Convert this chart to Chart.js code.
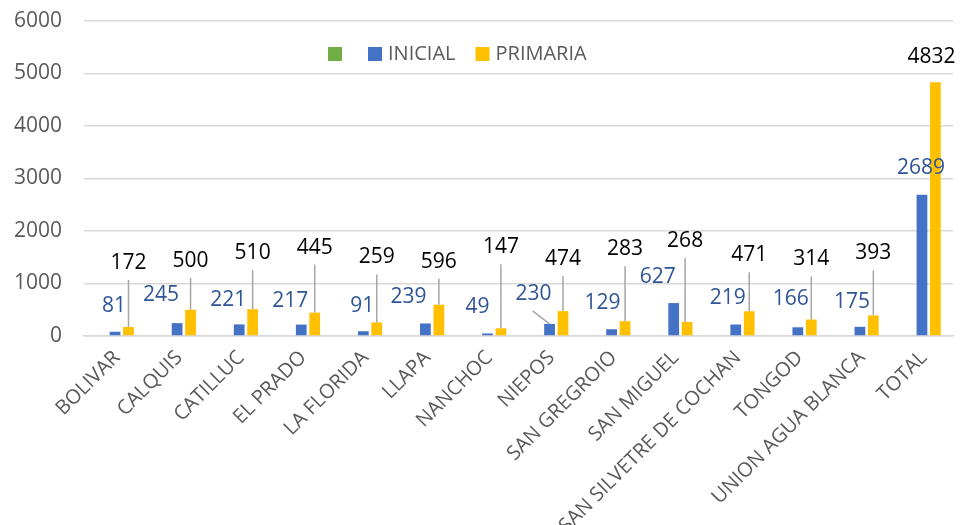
<!DOCTYPE html>
<html>
<head>
<meta charset="utf-8">
<script src="https://cdn.jsdelivr.net/npm/chart.js@4.4.1/dist/chart.umd.min.js"></script>
<style>
  html, body { margin: 0; padding: 0; background: #fff; }
  #wrap { width: 963px; height: 525px; }
</style>
</head>
<body>
<div id="wrap"><canvas id="myChart"></canvas></div>
<script>
const categories = ['BOLIVAR', 'CALQUIS', 'CATILLUC', 'EL PRADO', 'LA FLORIDA', 'LLAPA', 'NANCHOC', 'NIEPOS', 'SAN GREGROIO', 'SAN MIGUEL', 'SAN SILVETRE DE COCHAN', 'TONGOD', 'UNION AGUA BLANCA', 'TOTAL'];
const inicial = [81, 245, 221, 217, 91, 239, 49, 230, 129, 627, 219, 166, 175, 2689];
const primaria = [172, 500, 510, 445, 259, 596, 147, 474, 283, 268, 471, 314, 393, 4832];
const vacio = [null, null, null, null, null, null, null, null, null, null, null, null, null, null];
const yTicks = [0, 1000, 2000, 3000, 4000, 5000, 6000];

// label placement (pixels, relative to the bar top)
const inicialDx = [-1, -16, -11, -11, -1, -17, -10, -16, -9, -16, -8, -7, -8, -1];
const inicialDy = [-26, -28, -24, -24, -25, -26, -26, -30, -26, -26, -26, -28, -25, -27];
const inicialLeader = [7];
const primariaDx = [0, 0, 0, 0, 0, 0, 0, 0, 0, -2, 0, 0, 0, -4];
const primariaDy = [-64, -49, -56, -65, -65, -43, -81, -52, -72, -81, -56, -60, -62, -25];

const font = '"Open Sans", "Noto Sans", sans-serif';

const labelPlugin = {
  id: 'labels',
  afterDatasetsDraw(chart) {
    const ctx = chart.ctx;
    ctx.save();
    ctx.font = '21px ' + font;
    ctx.textAlign = 'center';
    ctx.textBaseline = 'middle';
    ctx.strokeStyle = '#a6a6a6';
    ctx.lineWidth = 1.5;

    chart.getDatasetMeta(2).data.forEach(function (bar, i) {
      let x = bar.x + primariaDx[i];
      let y = bar.y + primariaDy[i];
      if (bar.y - y > 35) {
        ctx.beginPath();
        ctx.moveTo(x, y + 17);
        ctx.lineTo(x, bar.y);
        ctx.stroke();
      }
      ctx.fillStyle = '#000';
      ctx.fillText(primaria[i], x, y);
    });

    chart.getDatasetMeta(1).data.forEach(function (bar, i) {
      let x = bar.x + inicialDx[i];
      let y = bar.y + inicialDy[i];
      if (inicialLeader.includes(i)) {
        ctx.beginPath();
        ctx.moveTo(x - 1, y + 17);
        ctx.lineTo(bar.x, bar.y);
        ctx.stroke();
      }
      ctx.fillStyle = '#2f5597';
      ctx.fillText(inicial[i], x, y);
    });
    ctx.restore();
  }
};

const legendPlugin = {
  id: 'legendInside',
  afterDraw(chart) {
    const ctx = chart.ctx;
    ctx.save();
    ctx.font = '20px ' + font;
    ctx.textBaseline = 'middle';
    let x = 328;
    const y = 54;
    chart.data.datasets.forEach(function (ds) {
      ctx.fillStyle = ds.backgroundColor;
      ctx.fillRect(x, y - 7, 14, 14);
      x += 20;
      ctx.fillStyle = '#595959';
      ctx.fillText(ds.label, x, y);
      x += ctx.measureText(ds.label).width + 20;
    });
    ctx.restore();
  }
};

const ctx = document.getElementById('myChart');

new Chart(ctx, {
  type: 'bar',
  data: {
    labels: categories,
    datasets: [{
      label: '',
      data: vacio,
      backgroundColor: '#70ad47'
    }, {
      label: 'INICIAL',
      data: inicial,
      backgroundColor: '#4472c4'
    }, {
      label: 'PRIMARIA',
      data: primaria,
      backgroundColor: '#ffc000'
    }]
  },
  options: {
    responsive: true,
    maintainAspectRatio: false,
    animation: false,
    categoryPercentage: 0.65,
    barPercentage: 0.8,
    layout: {
      padding: { top: 21, right: 10, left: 0, bottom: 0 }
    },
    plugins: {
      legend: { display: false },
      tooltip: { enabled: false }
    },
    scales: {
      y: {
        min: 0,
        max: 6000,
        afterBuildTicks: function (scale) {
          scale.ticks = yTicks.map(function (v) { return { value: v }; });
        },
        afterFit: function (scale) { scale.width = 84; },
        grid: { color: '#d9d9d9', lineWidth: 1.5, drawTicks: true, tickLength: 22, tickColor: 'rgba(0,0,0,0)' },
        border: { display: false },
        ticks: {
          padding: 0,
          color: '#595959',
          font: { family: font, size: 21 },
          callback: function (v) { return String(v); }
        }
      },
      x: {
        afterFit: function (scale) { scale.height = 189; },
        grid: { display: false, drawTicks: false },
        border: { color: '#d9d9d9', width: 1.5 },
        ticks: {
          minRotation: 45,
          maxRotation: 45,
          autoSkip: false,
          padding: 10,
          labelOffset: 2,
          color: '#595959',
          font: { family: font, size: 20 }
        }
      }
    }
  },
  plugins: [labelPlugin, legendPlugin]
});
</script>
</body>
</html>
